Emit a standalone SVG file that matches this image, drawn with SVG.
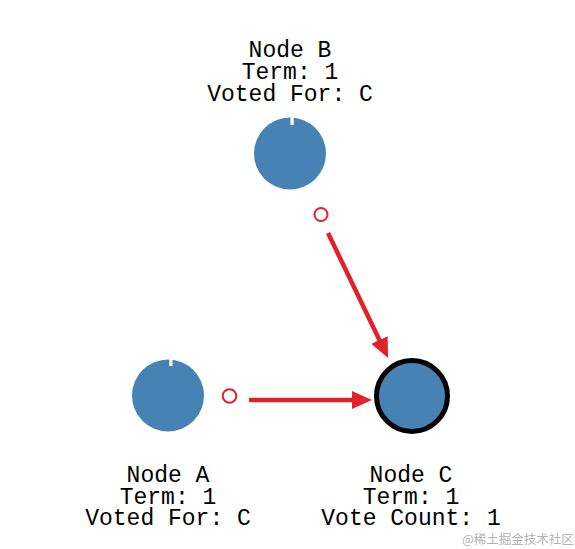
<svg xmlns="http://www.w3.org/2000/svg" width="575" height="549" viewBox="0 0 575 549">
  <style>
    .lbl { font-family: "Liberation Mono", "Courier New", monospace; font-size: 23px; fill: #000; text-anchor: middle; }
    .node { fill: #4682b4; }
    .notch { fill: #fff; }
    .dot { fill: none; stroke: #e3212b; stroke-width: 2; }
    .edge { stroke: #e3212b; stroke-width: 4.5; fill: none; marker-end: url(#arrow); }
    .wm { font-family: "Noto Sans CJK SC", "Liberation Sans", sans-serif; font-size: 12.5px; fill: #b4b4b4; }
  </style>
  <defs>
    <marker id="arrow" viewBox="0 0 20 18" refX="10" refY="9" markerWidth="20" markerHeight="18" markerUnits="userSpaceOnUse" orient="auto">
      <path d="M0,0 L20,9 L0,18 Z" fill="#e3212b"/>
    </marker>
  </defs>
  <rect width="575" height="549" fill="#fff"/>

  <g id="node-b">
    <circle class="node" cx="290" cy="153.5" r="36"/>
    <rect class="notch" x="290.5" y="116" width="3.2" height="9"/>
    <circle class="dot" cx="321" cy="214.5" r="6.5"/>
    <text class="lbl" x="290" y="57">Node B</text>
    <text class="lbl" x="290" y="79">Term: 1</text>
    <text class="lbl" x="290" y="101">Voted For: C</text>
  </g>

  <g id="node-a">
    <circle class="node" cx="168" cy="395.5" r="36"/>
    <rect class="notch" x="169.3" y="358" width="3.2" height="8"/>
    <circle class="dot" cx="229.5" cy="396" r="6.8"/>
    <text class="lbl" x="168" y="482">Node A</text>
    <text class="lbl" x="168" y="504">Term: 1</text>
    <text class="lbl" x="168" y="525">Voted For: C</text>
  </g>

  <g id="node-c">
    <circle class="node" cx="412" cy="396" r="35.5" stroke="#000" stroke-width="5"/>
    <text class="lbl" x="411" y="482">Node C</text>
    <text class="lbl" x="411" y="504">Term: 1</text>
    <text class="lbl" x="411" y="525">Vote Count: 1</text>
  </g>

  <g id="connectors">
    <line class="edge" x1="249" y1="400" x2="362" y2="400"/>
    <line class="edge" x1="328" y1="233" x2="383.8" y2="349"/>
  </g>

  <text class="wm" x="462" y="544">@稀土掘金技术社区</text>
</svg>
